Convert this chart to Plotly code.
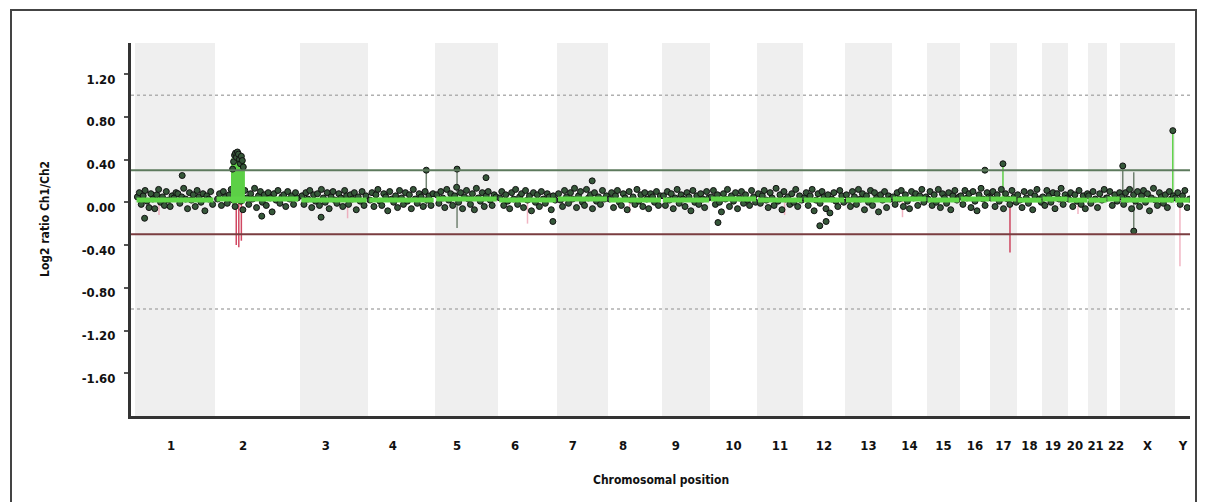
import numpy as np
import plotly.graph_objects as go

# ---------------- data ----------------
chroms = ['1', '2', '3', '4', '5', '6', '7', '8', '9', '10', '11', '12', '13', '14',
          '15', '16', '17', '18', '19', '20', '21', '22', 'X', 'Y']
chrom_len = [240, 255, 204, 201, 189, 177, 153, 162, 144, 141, 138, 126, 141, 105,
             99, 90, 81, 75, 78, 60, 57, 39, 165, 45]
label_frac = [0.45, 0.33, 0.38, 0.37, 0.35, 0.29, 0.31, 0.28, 0.29, 0.5, 0.5, 0.5, 0.5,
              0.5, 0.5, 0.5, 0.5, 0.5, 0.42, 0.35, 0.40, 0.70, 0.5, 0.53]

# log2 ratios (hundredths) of the probe cloud, per chromosome
c1 = [5, 9, -2, 6, 11, 1, -5, 8, 3, -6, 7, 12, 0, 5, -3, 10, 2, -4, 6, 4, 9, 8, -1, 5, 13, 3, -6, 9, 2, 7, -4, 11, 5, 0, 8, -8, 6, 3, 10, -2]
c2 = [3, 8, -3, 10, 5, -1, 7, 12, 2, -4, 6, 9, 1, -7, 11, 4, -2, 8, 3, 13, -5, 6, 10, 0, 7, -3, 9, 4, -9, 8, 2, 11, -1, 5, 7, -4, 10, 3, 6, -2, 9, 4]
c3 = [6, -2, 9, 3, 11, -5, 7, 1, 8, -3, 12, 4, 0, 9, -6, 5, 10, 2, -1, 8, 4, -4, 11, 6, -2, 7, 3, 9, -7, 5, 1, 10, -3, 6]
c4 = [2, 9, -4, 7, 12, 1, -3, 8, 5, -8, 10, 3, 0, 6, -5, 11, 4, -2, 9, 1, 7, -6, 12, 3, -1, 8, 5, -4, 10, 2, 6, -3, 8]
c5 = [7, -1, 10, 4, -5, 12, 2, 8, -3, 6, 14, 0, 9, -6, 5, 11, 3, -2, 8, -7, 13, 4, 1, 9, -4, 6, 10, 2, -3, 7, 5]
c6 = [4, 10, -3, 7, 1, -6, 9, 3, 12, -2, 5, 8, -5, 11, 2, 6, -8, 9, 0, 7, -4, 10, 3, -1, 8, 5, -7, 6, 2]
c7 = [8, 2, -4, 11, 5, -1, 9, 3, 13, -5, 6, 10, 0, -3, 12, 4, 7, -6, 9, 1, 5, -2, 11, 3, 6]
c8 = [3, 9, -5, 6, 11, 0, -3, 8, 4, -7, 10, 2, 5, -2, 12, 1, 7, -4, 9, 3, -6, 8, 5, 0, 10, -3, 6]
c9 = [6, -3, 10, 2, 8, -6, 4, 12, -1, 7, 3, -4, 9, 5, -8, 11, 0, 6, -2, 8, 3, -5, 10, 4]
c10 = [5, 11, -2, 7, 0, -9, 8, 3, 12, -4, 6, 1, 9, -6, 4, 10, -1, 7, 2, -3, 11, 5, 0]
c11 = [8, -1, 6, 11, 2, -5, 9, 4, -3, 13, 1, 7, -7, 10, 3, 5, -2, 8, 0, 12, -4, 6, 2]
c12 = [4, 9, -3, 6, 12, -8, 2, 8, -1, 10, 5, -6, 7, -10, 3, 9, 1, -4, 11, 6, 0]
c13 = [7, 2, -4, 10, 5, -2, 12, 3, 8, -7, 6, 0, 11, -3, 9, 4, -9, 7, 2, 10, -5, 6, 3]
c14 = [5, -2, 9, 3, 11, -4, 7, 1, -6, 10, 4, 8, -3, 6, 12, 0, 5]
c15 = [3, 10, -3, 7, 0, 12, -5, 8, 4, -1, 9, -7, 6, 11, 2, 5]
c16 = [6, -2, 11, 4, 8, -5, 10, 1, -8, 7, 13, 3, -3, 9, 5]
c17 = [4, 10, -4, 7, 1, 12, -6, 8, 3, -2, 11, 5, 0]
c18 = [7, 2, -5, 10, 4, -1, 9, -7, 6, 12, 3, 0]
c19 = [5, -3, 11, 6, 0, 9, -6, 8, 3, 13, -2, 7, 4]
c20 = [3, 9, -4, 7, 1, 11, -2, 6, -6, 8]
c21 = [6, -1, 10, 3, -5, 8, 2, 12, 4]
c22 = [4, 10, -3, 7, 1, 9]
cX = [5, -2, 9, 3, 12, -6, 7, 1, 10, -4, 6, 11, 0, 8, -8, 4, 13, 2, -3, 9, 5, -1, 7, -5, 10, 3, 6]
cY = [4, 9, -2, 6, 11, -5, 3]
cloud = [c1, c2, c3, c4, c5, c6, c7, c8, c9, c10, c11, c12, c13, c14, c15, c16,
         c17, c18, c19, c20, c21, c22, cX, cY]

# moving-average level per chromosome
seg_level = [0.02, 0.03, 0.02, 0.02, 0.03, 0.02, 0.03, 0.02, 0.02, 0.03, 0.02, 0.02,
             0.02, 0.03, 0.02, 0.03, 0.03, 0.02, 0.03, 0.02, 0.02, 0.03, 0.02, 0.02]

# chromosome 2 amplification
amp_chrom = '2'
amp_start_frac = 0.20
amp_end_frac = 0.34
amp_level = 0.40
amp_vals = [0.31, 0.38, 0.44, 0.46, 0.42, 0.47, 0.45, 0.40, 0.36, 0.43, 0.39, 0.33]

# single outlying probes
out_chrom = ['1', '1', '2', '3', '4', '5', '5', '6', '7', '10', '12', '12', '16', '17', 'X', 'X', 'X']
out_frac = [0.59, 0.12, 0.55, 0.31, 0.87, 0.35, 0.81, 0.93, 0.69, 0.17, 0.40, 0.55, 0.83, 0.48, 0.05, 0.25, 0.96]
out_val = [0.25, -0.15, -0.13, -0.14, 0.30, 0.31, 0.23, -0.18, 0.20, -0.19, -0.22, -0.18, 0.30, 0.36, 0.34, -0.27, 0.67]

# vertical error lines (green = gain side, red = loss side)
bar_chrom = ['4', '5', 'X', '17', 'X', '2', '2', '2', '17', 'X', 'Y', '1', '3', '6', '8', '11', '14', '20']
bar_frac = [0.87, 0.35, 0.05, 0.48, 0.96, 0.25, 0.28, 0.31, 0.74, 0.25, 0.33, 0.30, 0.70, 0.50, 0.40, 0.60, 0.30, 0.50]
bar_lo = [-0.05, -0.24, 0.05, 0.05, 0.05, -0.40, -0.42, -0.36, -0.47, -0.28, -0.60, -0.12, -0.15, -0.20, -0.10, -0.12, -0.14, -0.11]
bar_hi = [0.30, 0.31, 0.34, 0.36, 0.67, 0.00, 0.00, 0.00, 0.00, 0.28, 0.02, 0.02, 0.02, 0.02, 0.02, 0.02, 0.02, 0.02]
bar_kind = ['k', 'k', 'k', 'g', 'g', 'r', 'r', 'r', 'r', 'k', 'p', 'p', 'p', 'p', 'p', 'p', 'p', 'p']

thr_up, thr_dn = 0.30, -0.30
dot_up, dot_dn = 1.0, -1.0
y_ticks = [1.2, 0.8, 0.4, 0.0, -0.4, -0.8, -1.2, -1.6]

# ---------------- geometry helpers ----------------
starts = np.concatenate([[0], np.cumsum(chrom_len)[:-1]])
total = float(np.sum(chrom_len))
idx = {c: i for i, c in enumerate(chroms)}


def pos(ch, frac):
    i = idx[ch]
    return starts[i] + frac * chrom_len[i]


fig = go.Figure()

# probe cloud
xs, ys = [], []
for i, vals in enumerate(cloud):
    fr = np.linspace(0.03, 0.97, len(vals))
    xs.extend(starts[i] + fr * chrom_len[i])
    ys.extend(np.array(vals) / 100.0)

# error lines
colors = {'k': 'rgba(90,110,90,0.85)', 'g': '#5cd046', 'r': 'rgba(200,40,70,0.85)', 'p': 'rgba(235,150,170,0.7)'}
for kind in ['p', 'k', 'r', 'g']:
    bx, by = [], []
    for ch, f, lo, hi, k in zip(bar_chrom, bar_frac, bar_lo, bar_hi, bar_kind):
        if k == kind:
            x = pos(ch, f)
            bx += [x, x, None]
            by += [lo, hi, None]
    fig.add_trace(go.Scatter(x=bx, y=by, mode='lines', line=dict(color=colors[kind], width=1.5),
                             hoverinfo='skip', showlegend=False))

dot_marker = dict(size=6, color='#36583a', line=dict(color='#111', width=1))
fig.add_trace(go.Scatter(x=xs, y=ys, mode='markers', marker=dot_marker, showlegend=False))

# amplification block and its probes
ax0, ax1 = pos(amp_chrom, amp_start_frac), pos(amp_chrom, amp_end_frac)
fig.add_trace(go.Scatter(x=[ax0, ax0, ax1, ax1, ax0], y=[0, amp_level, amp_level, 0, 0],
                         fill='toself', fillcolor='#5cd046', mode='lines',
                         line=dict(color='#5cd046', width=2), hoverinfo='skip', showlegend=False))
fig.add_trace(go.Scatter(x=list(ax0 + (ax1 - ax0) * np.linspace(0.05, 0.95, len(amp_vals))), y=amp_vals,
                         mode='markers', marker=dot_marker, showlegend=False))

# moving average line
lx, ly = [], []
for i, lev in enumerate(seg_level):
    lx += [starts[i] + 0.02 * chrom_len[i], starts[i] + 0.98 * chrom_len[i], None]
    ly += [lev, lev, None]
fig.add_trace(go.Scatter(x=lx, y=ly, mode='lines', line=dict(color='#5fd648', width=5),
                         hoverinfo='skip', showlegend=False))

# outliers
fig.add_trace(go.Scatter(x=[pos(c, f) for c, f in zip(out_chrom, out_frac)], y=out_val, mode='markers',
                         marker=dot_marker, showlegend=False))

# ---------------- layout ----------------
L, R, T, B = 131, 1190, 43, 416
W, H = 1206, 502
shapes = []
for i in range(0, len(chroms), 2):
    shapes.append(dict(type='rect', xref='x', yref='paper', x0=starts[i], x1=starts[i] + chrom_len[i],
                       y0=0, y1=1, fillcolor='#efefef', line=dict(width=0), layer='below'))
for yv, col in [(thr_up, '#5d7a5d'), (thr_dn, '#7a3d40')]:
    shapes.append(dict(type='line', xref='paper', yref='y', x0=0, x1=1, y0=yv, y1=yv,
                       line=dict(color=col, width=2)))
for yv in [dot_up, dot_dn]:
    shapes.append(dict(type='line', xref='paper', yref='y', x0=0, x1=1, y0=yv, y1=yv,
                       line=dict(color='#b0b0b0', width=1.5, dash='dot')))


def px_x(p):
    return (p - L) / (R - L)


def px_y(p):
    return (B - p) / (B - T)


shapes.append(dict(type='rect', xref='paper', yref='paper', x0=px_x(11), x1=px_x(1196),
                   y0=px_y(512), y1=px_y(10), line=dict(color='#444', width=2), fillcolor='rgba(0,0,0,0)'))

font_fam = 'DejaVu Sans Condensed, Liberation Sans Narrow, sans-serif'
tick_font = dict(size=13, family=font_fam, color='#111', weight='bold')
title_font = dict(size=12, family=font_fam, color='#111', weight='bold')

fig.update_layout(
    width=W, height=H, margin=dict(l=L, r=W - R, t=T, b=H - B),
    paper_bgcolor='white', plot_bgcolor='white', shapes=shapes,
    font=dict(family=font_fam, size=13, color='#111'),
    xaxis=dict(range=[-12, total], showgrid=False, zeroline=False, showline=True, linewidth=3,
               linecolor='#333', ticks='', tickvals=[pos(c, f) for c, f in zip(chroms, label_frac)],
               ticktext=chroms, ticklabelstandoff=15, tickangle=0, tickfont=tick_font),
    yaxis=dict(range=[-2.0, 1.49], showgrid=False, zeroline=False, showline=True, linewidth=3,
               linecolor='#333', ticks='outside', ticklen=4, tickwidth=2, tickcolor='#555',
               ticklabelstandoff=6, ticklabelshift=5,
               tickvals=y_ticks, ticktext=['%.2f' % v for v in y_ticks], tickfont=tick_font),
    annotations=[
        dict(text='Log2 ratio Ch1/Ch2', xref='paper', yref='paper', x=px_x(45), y=px_y(219),
             textangle=-90, showarrow=False, font=title_font, xanchor='center', yanchor='middle'),
        dict(text='Chromosomal position', xref='paper', yref='paper', x=0.5, y=px_y(480),
             showarrow=False, font=title_font, xanchor='center', yanchor='middle'),
    ],
)

fig.write_html('out.html', config={'displayModeBar': False},
               post_script="document.body.style.margin='0';document.body.style.padding='0';")
